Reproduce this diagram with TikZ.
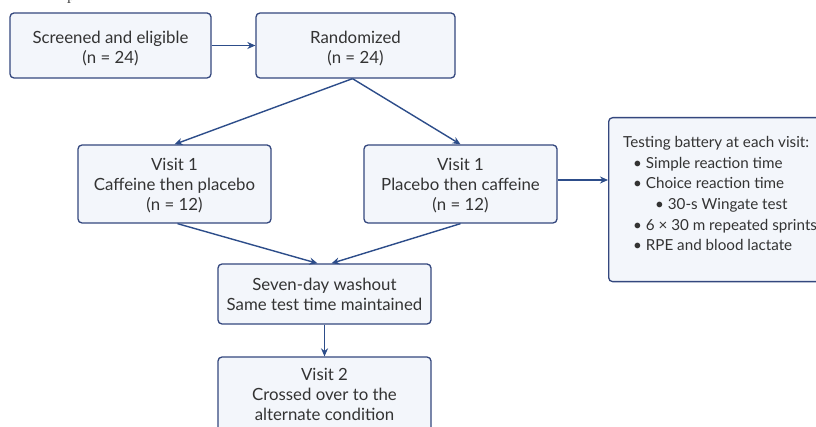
\documentclass[tikz,border=0pt]{standalone}
\usepackage{fontspec}
\setmainfont{Lato}
\usetikzlibrary{arrows.meta}
\newfontfamily\serifp{Latin Modern Roman}
\definecolor{boxline}{HTML}{34477E}
\definecolor{boxfill}{HTML}{F3F6FB}
\definecolor{arrowc}{HTML}{2D4D8A}
\tikzset{
  flowbox/.style={draw=boxline, line width=1.3pt, fill=boxfill, rounded corners=4pt, align=center,
    font=\fontsize{16.8}{20}\selectfont, text=black!80, inner sep=0pt},
  txh/.style={text height=#1, text depth=0pt},
  conn/.style={draw=arrowc, line width=1.4pt, -{Stealth[length=8pt,width=7pt]}},
}
\begin{document}
\begin{tikzpicture}[x=1pt,y=-1pt]
\useasboundingbox (0,0) rectangle (816,427);
\fill[white] (0,0) rectangle (816,427);
\node[font=\serifp\fontsize{14}{16}\selectfont, anchor=base] (frag) at (71,1) {p};

\node[flowbox, txh=36pt, minimum width=201pt, minimum height=65pt] (scr) at (110.5,45.5) {Screened and eligible\\(n = 24)};
\node[flowbox, txh=36pt, minimum width=199pt, minimum height=65pt] (rand) at (355.5,45.5) {Randomized\\(n = 24)};
\node[flowbox, txh=54pt, minimum width=193pt, minimum height=78pt] (v1l) at (174.5,184) {Visit 1\\Caffeine then placebo\\(n = 12)};
\node[flowbox, txh=54pt, minimum width=193pt, minimum height=78pt] (v1r) at (460.5,184) {Visit 1\\Placebo then caffeine\\(n = 12)};
\node[flowbox, minimum width=213pt, minimum height=60pt] (wash) at (324.5,294) {Seven-day washout\\Same test time maintained};
\node[flowbox, minimum width=213pt, minimum height=74pt] (v2) at (324.5,394) {Visit 2\\Crossed over to the\\alternate condition};
\node[flowbox, minimum width=220pt, minimum height=164pt, anchor=north west] (test) at (608,117) {};
\node[anchor=north west, align=left, inner sep=0pt, font=\fontsize{15.2}{20.7}\selectfont, text=black!80] (testtxt) at ([xshift=15pt,yshift=-19pt]test.north west)
  {Testing battery at each visit:\\
   \hspace*{10pt}\textbullet\ Simple reaction time\\
   \hspace*{10pt}\textbullet\ Choice reaction time\\
   \hspace*{32pt}\textbullet\ 30-s Wingate test\\
   \hspace*{10pt}\textbullet\ 6 × 30 m repeated sprints\\
   \hspace*{10pt}\textbullet\ RPE and blood lactate};

\draw[conn] (scr.east) -- (rand.west);
\draw[conn] ([xshift=-3pt]rand.south) -- (v1l.north);
\draw[conn] ([xshift=-3pt]rand.south) -- (v1r.north);
\draw[conn] ([xshift=3pt]v1l.south) -- ([xshift=-7pt]wash.north);
\draw[conn] (v1r.south) -- ([xshift=7pt]wash.north);
\draw[conn] (wash.south) -- (v2.north);
\draw[conn] ([yshift=4pt]v1r.east) -- ([yshift=4pt]v1r.east -| test.west);
\end{tikzpicture}
\end{document}
